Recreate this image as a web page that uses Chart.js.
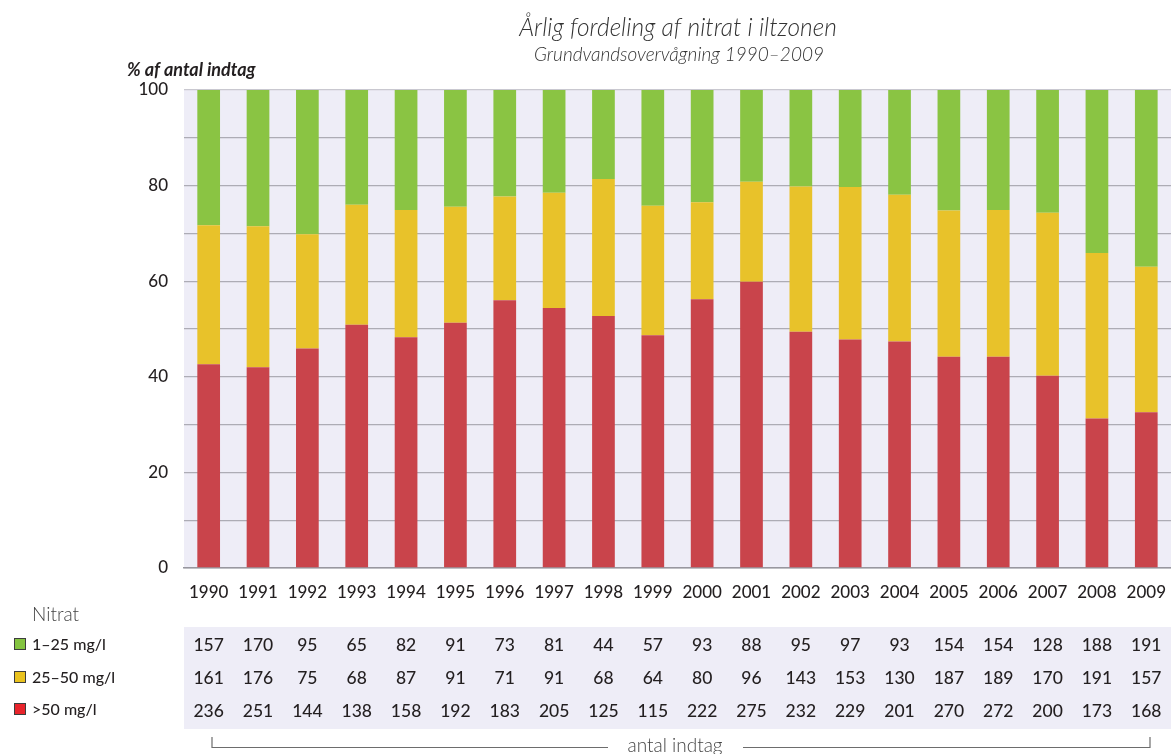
<!DOCTYPE html>
<html>
<head>
<meta charset="utf-8">
<script src="https://cdn.jsdelivr.net/npm/chart.js@4.4.1/dist/chart.umd.min.js"></script>
<style>
  html, body { margin: 0; padding: 0; background: #ffffff; overflow: hidden; }
  #wrap { position: absolute; left: 0; top: 0; width: 1180px; height: 754px; }
</style>
</head>
<body>
<div id="wrap"><canvas id="c" width="1180" height="754"></canvas></div>
<script>
// ---- Data ----
const years = ['1990','1991','1992','1993','1994','1995','1996','1997','1998','1999',
               '2000','2001','2002','2003','2004','2005','2006','2007','2008','2009'];
// counts (antal indtag) per class, as printed in the table
const count1to25  = [157,170,95,65,82,91,73,81,44,57,93,88,95,97,93,154,154,128,188,191];
const count25to50 = [161,176,75,68,87,91,71,91,68,64,80,96,143,153,130,187,189,170,191,157];
const countOver50 = [236,251,144,138,158,192,183,205,125,115,222,275,232,229,201,270,272,200,173,168];
// percent of intakes (bar segments)
const pctOver50  = [42.6,42.0,45.9,50.9,48.3,51.3,56.0,54.4,52.7,48.7,56.2,59.9,49.4,47.8,47.4,44.2,44.2,40.2,31.3,32.6];
const pct25to50  = [29.1,29.5,23.9,25.1,26.6,24.3,21.7,24.1,28.7,27.1,20.3,20.9,30.4,31.9,30.7,30.6,30.7,34.1,34.6,30.4];
const pct1to25   = [28.3,28.5,30.2,24.0,25.1,24.4,22.3,21.5,18.6,24.2,23.5,19.2,20.2,20.3,21.9,25.2,25.1,25.7,34.1,37.0];
const seriesLabels = ['>50 mg/l','25–50 mg/l','1–25 mg/l'];
const yTicks = [0,20,40,60,80,100];

const FONT = 'Lato, "Open Sans", sans-serif';
const TXT = '#231f20';
const COL_RED = '#c9444b', COL_YEL = '#e8c22a', COL_GRN = '#8ac443';

const overlay = {
  id: 'overlay',
  beforeDraw(chart) {
    const { ctx, chartArea: a } = chart;
    ctx.save();
    ctx.fillStyle = '#eeedf7';
    ctx.fillRect(a.left, a.top, a.right - a.left, a.bottom - a.top);
    ctx.restore();
  },
  afterDraw(chart) {
    const { ctx, chartArea: a } = chart;
    const x = chart.scales.x;
    ctx.save();
    // Titles
    ctx.fillStyle = '#333333';
    ctx.textAlign = 'center';
    ctx.textBaseline = 'middle';
    ctx.font = 'italic 300 24.5px ' + FONT;
    ctx.fillText('Årlig fordeling af nitrat i iltzonen', 678, 28);
    ctx.font = 'italic 300 19px ' + FONT;
    ctx.fillText('Grundvandsovervågning 1990–2009', 679, 55);
    // Y-axis title
    ctx.fillStyle = TXT;
    ctx.textAlign = 'left';
    ctx.font = 'italic bold 18px ' + FONT;
    ctx.fillText('% af antal indtag', 127, 70);

    // Table background
    ctx.fillStyle = '#eeedf7';
    ctx.fillRect(a.left, 627, a.right - a.left, 102);
    const rows = [count1to25, count25to50, countOver50];
    const rowY = [645, 678, 711];
    ctx.fillStyle = TXT;
    ctx.textAlign = 'center';
    ctx.font = '500 17.5px ' + FONT;
    rows.forEach((r, ri) => {
      r.forEach((v, i) => {
        ctx.fillText(String(v), x.getPixelForValue(i), rowY[ri]);
      });
    });

    // Legend
    ctx.textAlign = 'left';
    ctx.fillStyle = '#444';
    ctx.font = '300 19px ' + FONT;
    ctx.fillText('Nitrat', 32, 615);
    const leg = [
      ['1–25 mg/l', '#84c441', 644],
      ['25–50 mg/l', '#e9c21e', 677],
      ['>50 mg/l', '#e8242b', 709]
    ];
    ctx.font = '500 16px ' + FONT;
    leg.forEach(([t, c, y]) => {
      ctx.fillStyle = c;
      ctx.fillRect(14, y - 6, 12, 12);
      ctx.strokeStyle = '#3d3d3d';
      ctx.lineWidth = 1;
      ctx.strokeRect(14.5, y - 5.5, 11, 11);
      ctx.fillStyle = TXT;
      ctx.fillText(t, 32, y + 1);
    });

    // Bracket "antal indtag"
    ctx.strokeStyle = '#6d6d6d';
    ctx.lineWidth = 1.2;
    ctx.beginPath();
    ctx.moveTo(212, 737); ctx.lineTo(212, 747.5); ctx.lineTo(608, 747.5);
    ctx.moveTo(743, 747.5); ctx.lineTo(1150, 747.5); ctx.lineTo(1150, 737);
    ctx.stroke();
    ctx.fillStyle = '#444';
    ctx.textAlign = 'center';
    ctx.font = '300 19px ' + FONT;
    ctx.fillText('antal indtag', 675, 746);
    ctx.restore();
  }
};

new Chart(document.getElementById('c'), {
  type: 'bar',
  data: {
    labels: years,
    datasets: [
      { label: seriesLabels[0], data: pctOver50, backgroundColor: COL_RED },
      { label: seriesLabels[1], data: pct25to50, backgroundColor: COL_YEL },
      { label: seriesLabels[2], data: pct1to25, backgroundColor: COL_GRN }
    ]
  },
  options: {
    responsive: false,
    animation: false,
    devicePixelRatio: 1,
    layout: { padding: { top: 90, right: 0, bottom: 146, left: 0 } },
    plugins: { legend: { display: false }, tooltip: { enabled: false }, title: { display: false } },
    datasets: { bar: { barPercentage: 0.46, categoryPercentage: 1.0 } },
    scales: {
      x: {
        stacked: true,
        grid: { display: false, drawTicks: false },
        border: { display: true, color: '#98979f', width: 1.5 },
        ticks: { color: TXT, font: { family: FONT, size: 17, weight: '500' }, padding: 14, maxRotation: 0, autoSkip: false },
        afterFit(s) { s.height = 40; }
      },
      y: {
        stacked: true,
        min: 0, max: 100,
        grid: {
          drawTicks: false,
          color: (c) => (c.tick && c.tick.value === 100) ? '#c9c8d0' : '#adacb5',
          lineWidth: 1.3
        },
        border: { display: false },
        ticks: {
          stepSize: 10,
          color: TXT,
          padding: 16,
          font: { family: FONT, size: 17, weight: '500' },
          callback: (v) => yTicks.includes(v) ? String(v) : ''
        },
        afterFit(s) { s.width = 184; }
      }
    }
  },
  plugins: [overlay]
});
</script>
</body>
</html>
